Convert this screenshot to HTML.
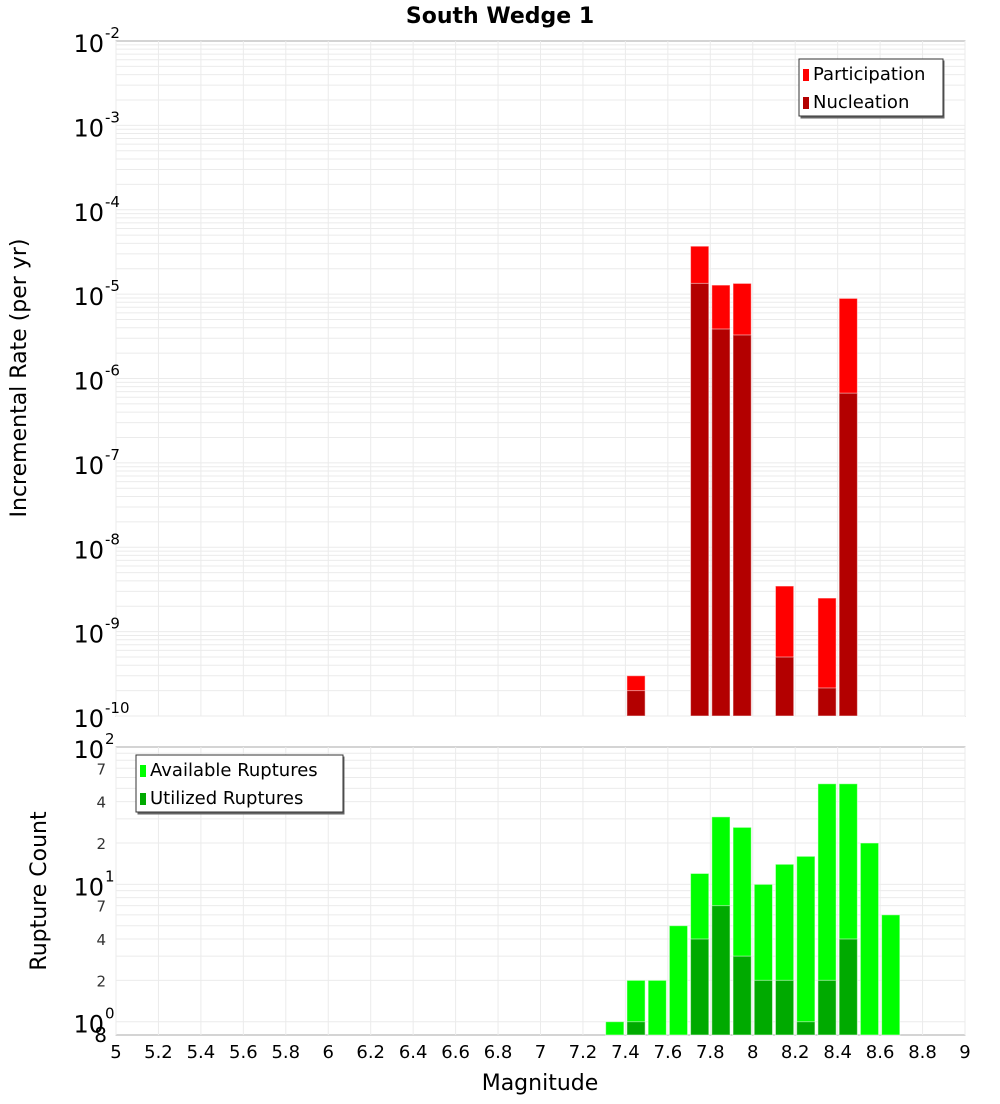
<!DOCTYPE html>
<html><head><meta charset="utf-8"><style>
body{margin:0;background:#fff;font-family:"DejaVu Sans","Liberation Sans",sans-serif}
</style></head><body>
<svg id="c" width="1000" height="1100" xmlns="http://www.w3.org/2000/svg"></svg>
<script>
const magsTop=[7.45,7.75,7.85,7.95,8.15,8.35,8.45];
const participation=[3.0e-10,3.7e-5,1.28e-5,1.34e-5,3.47e-9,2.5e-9,8.9e-6];
const nucleation=[2.0e-10,1.34e-5,3.86e-6,3.28e-6,5.0e-10,2.15e-10,6.7e-7];
const magsBot=[7.35,7.45,7.55,7.65,7.75,7.85,7.95,8.05,8.15,8.25,8.35,8.45,8.55,8.65];
const available=[1,2,2,5,12,31,26,10,14,16,54,54,20,6];
const utilized=[0,1,0,0,4,7,3,2,2,1,2,4,0,0];
const xTicks=[5,5.2,5.4,5.6,5.8,6,6.2,6.4,6.6,6.8,7,7.2,7.4,7.6,7.8,8,8.2,8.4,8.6,8.8,9];
const topExps=[-10,-9,-8,-7,-6,-5,-4,-3,-2];
const botMinor=[2,4,7,20,40,70];

const svg=document.getElementById('c');const NS='http://www.w3.org/2000/svg';
function mk(t,a,p){const e=document.createElementNS(NS,t);for(const k in a)e.setAttribute(k,a[k]);(p||svg).appendChild(e);return e;}
const L=116,R=965;
const X=m=>L+(m-5)/4*(R-L);
const T0=41,T1=716;const YT=v=>T1-(Math.log10(v)+10)/8*(T1-T0);
const B0=747,B1=1035;const YB=v=>B1-Math.log10(v/0.8)/Math.log10(100/0.8)*(B1-B0);

function panel(y0,y1){mk('rect',{x:L,y:y0,width:R-L,height:y1-y0,fill:'#fff',stroke:'#aaa'});}
panel(T0,T1);panel(B0,B1);
// grids
xTicks.forEach(t=>{
 let g=mk('line',{x1:X(t),x2:X(t),y1:T0,y2:T1,stroke:'#ebebeb'});
 mk('line',{x1:X(t),x2:X(t),y1:B0,y2:B1,stroke:'#ebebeb'});
 let tx=mk('text',{x:X(t),y:1058,'font-size':18,'text-anchor':'middle',fill:'#000'});tx.textContent=String(t);
 
});
for(let e=-10;e<-2;e++)for(let k=1;k<10;k++){const y=YT(k*Math.pow(10,e));mk('line',{x1:L,x2:R,y1:y,y2:y,stroke:'#ebebeb'});}
[1,2,3,4,5,6,7,8,9,10,20,30,40,50,60,70,80,90].forEach(v=>{const y=YB(v);mk('line',{x1:L,x2:R,y1:y,y2:y,stroke:'#ebebeb'});});
topExps.forEach(e=>{const y=YT(Math.pow(10,e));
 let t=mk('text',{x:104,y:y+11,'font-size':24,'text-anchor':'end',fill:'#000'});t.textContent='10';
 
 let s=mk('text',{x:105,y:y-3,'font-size':15,fill:'#000'});s.textContent=String(e);});
[[100,'2'],[10,'1'],[1,'0']].forEach(([v,e])=>{const y=YB(v);
 let t=mk('text',{x:104,y:y+11,'font-size':24,'text-anchor':'end',fill:'#000'});t.textContent='10';
 
 let s=mk('text',{x:105,y:y-3,'font-size':15,fill:'#000'});s.textContent=e;});
botMinor.forEach(v=>{const y=YB(v);let t=mk('text',{x:106,y:y+6,'font-size':15,'text-anchor':'end',fill:'#333'});t.textContent=String(v>=10?v/10:v);});
let e8=mk('text',{x:107,y:1042,'font-size':20,'text-anchor':'end',fill:'#000'});e8.textContent='8';
// bars
const bw=(X(5.1)-X(5))-3;
function bar(m,v,yf,base,col,nm){if(v<=0)return;const y=yf(v);const r=mk('rect',{x:X(m)-bw/2,y:y,width:bw,height:base-y,fill:col,stroke:'#fff','stroke-opacity':0.5,'stroke-width':1});
 }
magsTop.forEach((m,i)=>{bar(m,participation[i],YT,T1,'#ff0000','participation-bar');bar(m,nucleation[i],YT,T1,'#b30000','nucleation-bar');});
magsBot.forEach((m,i)=>{bar(m,available[i],YB,B1,'#00ff00','available-bar');bar(m,utilized[i],YB,B1,'#00aa00','utilized-bar');});
// legends
function legend(x,y,w,items,nm){const g=mk('g',{});
 mk('rect',{x:x+1.5,y:y+1.5,width:w,height:58,fill:'#666'},g);mk('rect',{x,y,width:w,height:57,fill:'#fff',stroke:'#333'},g);
 items.forEach(([lab,c],i)=>{mk('rect',{x:x+4,y:y+10+i*28,width:6,height:12,fill:c},g);const t=mk('text',{x:x+14,y:y+21+i*28,'font-size':18,fill:'#000'},g);t.textContent=lab;});}
legend(799,59,144,[['Participation','#ff0000'],['Nucleation','#b30000']],'legend-top');
legend(136,755,207,[['Available Ruptures','#00ff00'],['Utilized Ruptures','#00aa00']],'legend-bottom');
// titles
let ti=mk('text',{x:500,y:23,'font-size':22,'font-weight':'bold','text-anchor':'middle'});ti.textContent='South Wedge 1';
let xt=mk('text',{x:540,y:1090,'font-size':22,'text-anchor':'middle'});xt.textContent='Magnitude';
let y1=mk('text',{x:0,y:0,'font-size':22,'text-anchor':'middle',transform:'translate(26,378) rotate(-90)'});y1.textContent='Incremental Rate (per yr)';
let y2=mk('text',{x:0,y:0,'font-size':22,'text-anchor':'middle',transform:'translate(46,891) rotate(-90)'});y2.textContent='Rupture Count';
</script>
</body></html>
